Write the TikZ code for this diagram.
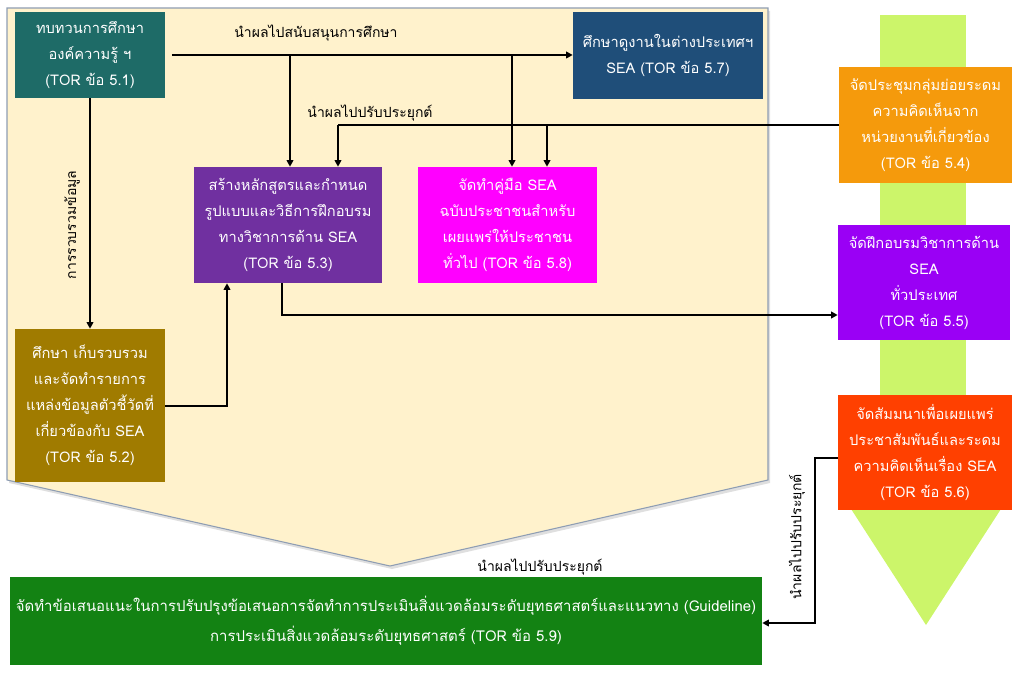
\documentclass[tikz,border=0pt]{standalone}
\usepackage{fontspec}
\setmainfont[Script=Thai]{Loma}
\usetikzlibrary{arrows.meta}
\definecolor{beige}{HTML}{FFF2CC}
\definecolor{beigeedge}{HTML}{8E9DB3}
\definecolor{lime}{HTML}{CCF56A}
\definecolor{cteal}{HTML}{1E6B67}
\definecolor{cnavy}{HTML}{1F4E79}
\definecolor{cpurple}{HTML}{7030A0}
\definecolor{cmagenta}{HTML}{FF00FF}
\definecolor{colive}{HTML}{A07B00}
\definecolor{corange}{HTML}{F59A0C}
\definecolor{cviolet}{HTML}{9A00F5}
\definecolor{cred}{HTML}{FF4000}
\definecolor{cgreen}{HTML}{138213}
\tikzset{
  box/.style={draw=none, align=center, text=white, inner sep=2pt,
    font=\fontsize{11}{19.5}\selectfont},
  lbl/.style={text=black, inner sep=1pt, font=\fontsize{10.5}{12}\selectfont},
  arr/.style={line width=1.5pt, -{Triangle[length=5pt,width=5pt]}},
  ln/.style={line width=1.5pt},
}
\begin{document}
\begin{tikzpicture}[x=0.75pt,y=-0.75pt]
\useasboundingbox (0,0) rectangle (1024,673);
% background shapes
\fill[gray!25] (9,11) -- (770,11) -- (770,483) -- (392,569) -- (9,483) -- cycle;
\filldraw[fill=beige, draw=beigeedge, line width=0.8pt]
  (7,8) -- (768,8) -- (768,480) -- (390,566) -- (7,480) -- cycle;
\fill[lime] (880,15) rectangle (966,495);
\fill[lime] (842,495) -- (1010,495) -- (926,625) -- cycle;
% boxes
\node[box, fill=cteal, minimum width=112.5pt, minimum height=64.5pt] (t51) at (90,55)
  {ทบทวนการศึกษา\\องค์ความรู้ ฯ\\(TOR ข้อ 5.1)};
\node[box, fill=cnavy, minimum width=142.5pt, minimum height=65.25pt] (t57) at (668,55.5)
  {ศึกษาดูงานในต่างประเทศฯ\\SEA (TOR ข้อ 5.7)};
\node[box, fill=cpurple, minimum width=141pt, minimum height=87pt] (t53) at (288,225)
  {สร้างหลักสูตรและกำหนด\\รูปแบบและวิธีการฝึกอบรม\\ทางวิชาการด้าน SEA\\(TOR ข้อ 5.3)};
\node[box, fill=cmagenta, minimum width=134.25pt, minimum height=87pt] (t58) at (507.5,225)
  {จัดทำคู่มือ SEA\\ฉบับประชาชนสำหรับ\\เผยแพร่ให้ประชาชน\\ทั่วไป (TOR ข้อ 5.8)};
\node[box, fill=colive, minimum width=112.5pt, minimum height=114.75pt] (t52) at (90,405.5)
  {ศึกษา เก็บรวบรวม\\และจัดทำรายการ\\แหล่งข้อมูลตัวชี้วัดที่\\เกี่ยวข้องกับ SEA\\(TOR ข้อ 5.2)};
\node[box, fill=corange, minimum width=129.75pt, minimum height=87pt] (t54) at (925.5,125)
  {จัดประชุมกลุ่มย่อยระดม\\ความคิดเห็นจาก\\หน่วยงานที่เกี่ยวข้อง\\(TOR ข้อ 5.4)};
\node[box, fill=cviolet, minimum width=129pt, minimum height=86.25pt] (t55) at (924,282.5)
  {จัดฝึกอบรมวิชาการด้าน\\SEA\\ทั่วประเทศ\\(TOR ข้อ 5.5)};
\node[box, fill=cred, minimum width=130.5pt, minimum height=86.25pt] (t56) at (925,452.5)
  {จัดสัมมนาเพื่อเผยแพร่\\ประชาสัมพันธ์และระดม\\ความคิดเห็นเรื่อง SEA\\(TOR ข้อ 5.6)};
\node[box, fill=cgreen, minimum width=564pt, minimum height=66pt, font=\fontsize{11.2}{22.5}\selectfont] (t59) at (386,621)
  {จัดทำข้อเสนอแนะในการปรับปรุงข้อเสนอการจัดทำการประเมินสิ่งแวดล้อมระดับยุทธศาสตร์และแนวทาง (Guideline)\\การประเมินสิ่งแวดล้อมระดับยุทธศาสตร์ (TOR ข้อ 5.9)};
% labels
\node[lbl] (l1) at (316,33) {นำผลไปสนับสนุนการศึกษา};
\node[lbl] (l2) at (370,113) {นำผลไปปรับประยุกต์};
\node[lbl, rotate=90] (l3) at (72,225) {การรวบรวมข้อมูล};
\node[lbl, rotate=90] (l4) at (797,537) {นำผลไปปรับประยุกต์};
\node[lbl] (l5) at (540,567) {นำผลไปปรับประยุกต์};
% coordinates
\coordinate (b1) at (290,55);
\coordinate (b2) at (512,55);
\coordinate (c1) at (338,125);
\coordinate (c2) at (547,125);
\coordinate (d1) at (282,315);
\coordinate (e1) at (227,406);
\coordinate (f1) at (815,458);
\coordinate (f2) at (815,623);
% connectors
\draw[arr] ([xshift=5pt]t51.east) -- (t51.east -| t57.west);
\draw[arr] (b1) -- (b1 |- t53.north);
\draw[arr] (b2) -- (b2 |- t58.north);
\draw[ln] (c1 -| t54.west) -- (c1);
\draw[arr] (c1) -- (c1 |- t53.north);
\draw[arr] (c2) -- (c2 |- t58.north);
\draw[arr] (d1 |- t53.south) -- (d1) -- (d1 -| t55.west);
\draw[arr] (e1 -| t52.east) -- (e1) -- (e1 |- t53.south);
\draw[arr] (t51.south) -- (t52.north);
\draw[arr] (f1 -| t56.west) -- (f1) -- (f2) -- (f2 -| t59.east);
\end{tikzpicture}
\end{document}
